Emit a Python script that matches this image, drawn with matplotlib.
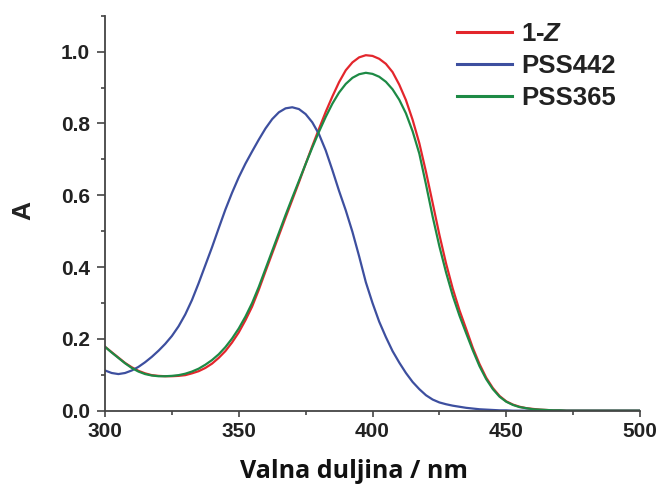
import matplotlib
matplotlib.use('Agg')
import matplotlib.pyplot as plt
from matplotlib.ticker import MultipleLocator

# wavelength grid (nm) and absorbance values
wavelength = [300, 302.5, 305, 307.5, 310, 312.5, 315, 317.5, 320, 322.5,
              325, 327.5, 330, 332.5, 335, 337.5, 340, 342.5, 345, 347.5,
              350, 352.5, 355, 357.5, 360, 362.5, 365, 367.5, 370, 372.5,
              375, 377.5, 380, 382.5, 385, 387.5, 390, 392.5, 395, 397.5,
              400, 402.5, 405, 407.5, 410, 412.5, 415, 417.5, 420, 422.5,
              425, 427.5, 430, 432.5, 435, 437.5, 440, 442.5, 445, 447.5,
              450, 452.5, 455, 457.5, 460, 462.5, 465, 467.5, 470, 472.5,
              475, 477.5, 480, 482.5, 485, 487.5, 490, 492.5, 495, 497.5,
              500]

a_1z = [0.178, 0.163, 0.148, 0.133, 0.121, 0.111, 0.104, 0.099, 0.097, 0.096,
        0.096, 0.097, 0.099, 0.104, 0.110, 0.119, 0.131, 0.147, 0.166, 0.190,
        0.218, 0.252, 0.290, 0.337, 0.388, 0.438, 0.488, 0.538, 0.587, 0.636,
        0.687, 0.737, 0.785, 0.832, 0.875, 0.915, 0.948, 0.970, 0.984, 0.990,
        0.988, 0.980, 0.966, 0.943, 0.908, 0.865, 0.810, 0.745, 0.665, 0.578,
        0.490, 0.410, 0.340, 0.280, 0.228, 0.175, 0.130, 0.092, 0.063, 0.041,
        0.026, 0.017, 0.011, 0.007, 0.005, 0.003, 0.002, 0.001, 0.001, 0.0,
        0.0, 0.0, 0.0, 0.0, 0.0, 0.0, 0.0, 0.0, 0.0, 0.0,
        0.0]

a_pss442 = [0.112, 0.105, 0.102, 0.105, 0.112, 0.122, 0.135, 0.150, 0.167, 0.186,
            0.208, 0.235, 0.268, 0.308, 0.355, 0.405, 0.455, 0.508, 0.560, 0.607,
            0.650, 0.688, 0.722, 0.755, 0.786, 0.812, 0.831, 0.842, 0.845, 0.840,
            0.826, 0.803, 0.770, 0.725, 0.670, 0.612, 0.558, 0.498, 0.430, 0.358,
            0.300, 0.248, 0.205, 0.166, 0.134, 0.105, 0.080, 0.060, 0.043, 0.031,
            0.023, 0.018, 0.014, 0.011, 0.008, 0.006, 0.004, 0.003, 0.002, 0.001,
            0.001, 0.0, 0.0, 0.0, 0.0, 0.0, 0.0, 0.0, 0.0, 0.0,
            0.0, 0.0, 0.0, 0.0, 0.0, 0.0, 0.0, 0.0, 0.0, 0.0,
            0.0]

a_pss365 = [0.178, 0.162, 0.147, 0.132, 0.119, 0.109, 0.102, 0.098, 0.096, 0.096,
            0.097, 0.099, 0.103, 0.109, 0.117, 0.128, 0.141, 0.157, 0.177, 0.201,
            0.229, 0.262, 0.300, 0.345, 0.395, 0.445, 0.495, 0.545, 0.593, 0.640,
            0.687, 0.733, 0.777, 0.818, 0.855, 0.886, 0.910, 0.927, 0.937, 0.941,
            0.938, 0.930, 0.916, 0.895, 0.866, 0.828, 0.778, 0.716, 0.630, 0.540,
            0.458, 0.385, 0.320, 0.265, 0.216, 0.168, 0.124, 0.088, 0.060, 0.039,
            0.025, 0.016, 0.010, 0.007, 0.004, 0.003, 0.002, 0.001, 0.001, 0.0,
            0.0, 0.0, 0.0, 0.0, 0.0, 0.0, 0.0, 0.0, 0.0, 0.0,
            0.0]

labels = [r'1-$\mathit{Z}$', 'PSS442', 'PSS365']
colors = ['#e3262c', '#3d4f9f', '#1d8a45']

plt.rcParams['font.family'] = ['Liberation Sans', 'DejaVu Sans']
plt.rcParams['mathtext.fontset'] = 'custom'
plt.rcParams['mathtext.it'] = 'Liberation Sans:bold:italic'
plt.rcParams['mathtext.rm'] = 'Liberation Sans:bold'

fig = plt.figure(figsize=(6.59, 4.88), dpi=100)
ax = fig.add_axes([105 / 659, 1 - 410.7 / 488, 535 / 659, 395 / 488])

for y, lab, c in zip([a_1z, a_pss442, a_pss365], labels, colors):
    ax.plot(wavelength, y, color=c, lw=1.6, label=lab)

ax.set_xlim(300, 500)
ax.set_ylim(0, 1.1)
ax.xaxis.set_major_locator(MultipleLocator(50))
ax.xaxis.set_minor_locator(MultipleLocator(25))
ax.yaxis.set_minor_locator(MultipleLocator(0.1))
ax.set_yticks([0, 0.2, 0.4, 0.6, 0.8, 1.0])
ax.set_yticklabels(['0.0', '0.2', '0.4', '0.6', '0.8', '1.0'])

for side in ['top', 'right']:
    ax.spines[side].set_visible(False)
for side in ['left', 'bottom']:
    ax.spines[side].set_linewidth(1.3)
    ax.spines[side].set_color('#444444')

ax.tick_params(which='major', direction='out', width=1.2, color='#444444',
               labelsize=15, labelcolor='#222222')
ax.tick_params(axis='y', which='major', length=6, pad=5)
ax.tick_params(axis='x', which='major', length=4, pad=4)
ax.tick_params(which='minor', direction='out', length=3, width=1.2, color='#444444')
for t in ax.get_xticklabels() + ax.get_yticklabels():
    t.set_fontweight('bold')

ax.set_ylabel('A', fontsize=19, fontweight='bold', color='#222222', va='center')
ax.yaxis.set_label_coords(-0.153, 0.508)

fig.text(354 / 659, 1 - 471 / 488, 'Valna duljina / nm', ha='center', va='center',
         fontsize=18, fontweight='bold', family=['Open Sans', 'DejaVu Sans'], color='#111111')

leg = ax.legend(loc='upper left', bbox_to_anchor=(457 / 659, 1 - 22 / 488),
                bbox_transform=fig.transFigure, frameon=False, fontsize=18.5,
                handlelength=2.15, handletextpad=0.35, labelspacing=0.31,
                borderpad=0, borderaxespad=0)
for t in leg.get_texts():
    t.set_fontweight('bold')
    t.set_color('#222222')
for h in leg.get_lines():
    h.set_linewidth(2.2)

fig.savefig('out.png', dpi=100)
